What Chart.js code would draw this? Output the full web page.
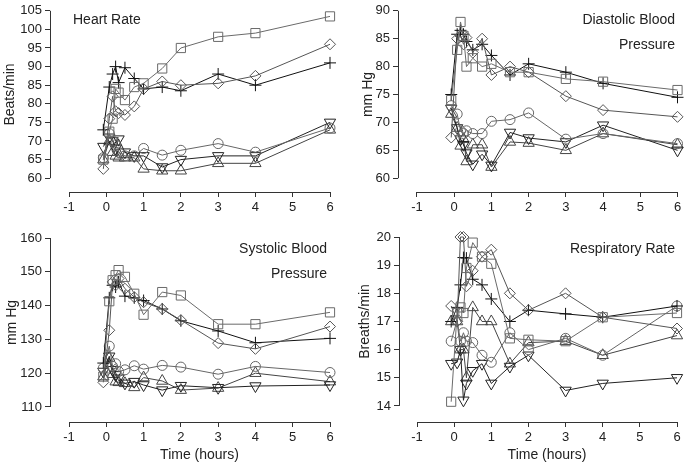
<!DOCTYPE html>
<html>
<head>
<meta charset="utf-8">
<script src="https://cdn.jsdelivr.net/npm/chart.js@4"></script>
<style>
  body{margin:0;background:#fff;width:685px;height:465px;position:relative;overflow:hidden}
  canvas{position:absolute}
</style>
</head>
<body>
<canvas id="hr" width="342" height="225" style="left:0;top:0"></canvas>
<canvas id="db" width="345" height="225" style="left:340px;top:0"></canvas>
<canvas id="sb" width="342" height="240" style="left:0;top:225px"></canvas>
<canvas id="rr" width="345" height="240" style="left:340px;top:225px"></canvas>
<script>
// sampling times (hours)
const times = [-0.08, 0.08, 0.17, 0.25, 0.33, 0.5, 0.75, 1, 1.5, 2, 3, 4, 6];
const xTicks = [-1, 0, 1, 2, 3, 4, 5, 6];

// heart rate
const hrTicks = [60, 65, 70, 75, 80, 85, 90, 95, 100, 105];
const hrSquare  = [65, 72.5, 76, 84, 83, 81, 84.5, 85.5, 89.5, 95, 98, 99, 103.5];
const hrDiamond = [62.5, 76, 82, 78, 77.5, 77, 79.3, 84, 86, 85, 85.5, 87.5, 96];
const hrPlus    = [73, 84.5, 88, 90, 85.7, 89.7, 86.8, 84, 84.5, 83.5, 88, 85, 91];
const hrCircle  = [65.5, 72, 70, 69, 67, 66, 66, 68, 66.2, 67.5, 69.3, 67, 73.5];
const hrDown    = [68.5, 71, 70, 68, 70.5, 67, 66, 66, 63, 65, 66, 66, 75];
const hrUp      = [65, 70, 67, 66, 65.5, 65.5, 65.5, 62.5, 62, 62, 64, 64, 73];

// diastolic blood pressure
const dbTicks = [60, 65, 70, 75, 80, 85, 90];
const dbSquare  = [74, 83, 88, 85.5, 80, 81.5, 80, 80.5, 79, 79, 77.8, 77.3, 75.8];
const dbDiamond = [67.3, 85, 85.5, 84, 85.2, 82.5, 85, 78.5, 80, 79, 74.7, 72.2, 71];
const dbPlus    = [75, 85.8, 86.5, 85.8, 84.5, 83, 84, 82, 78.5, 80.5, 79, 77, 74.5];
const dbCircle  = [73, 71.5, 68.5, 68, 68.5, 68, 68, 70.2, 70.5, 71.7, 67, 68, 66.2];
const dbDown    = [72.5, 69, 67, 66, 64.5, 62.5, 64.3, 62.3, 68.2, 67.2, 66.5, 69.5, 65];
const dbUp      = [71.5, 69, 65.8, 67, 63, 66, 66, 62, 66.5, 66.3, 65, 68, 66];

// systolic blood pressure
const sbTicks = [110, 120, 130, 140, 150, 160];
const sbSquare  = [119, 141.3, 147.5, 149, 150.5, 148.5, 143.5, 137.3, 144, 143, 134.5, 134.5, 138];
const sbDiamond = [117.3, 132.7, 147, 146, 148, 145, 142.5, 141, 139, 135.7, 128.9, 127.2, 133.8];
const sbPlus    = [123, 142.3, 146, 145.5, 147, 142.8, 142.3, 141.5, 139, 135.5, 132.5, 129, 130.3];
const sbCircle  = [121.5, 128, 122, 122.8, 120.5, 121, 122.2, 121.2, 122.3, 121.8, 119.7, 122, 120.2];
const sbDown    = [120.5, 125, 121, 119.5, 118.5, 117, 117.5, 116.5, 115, 116.3, 115.7, 116.2, 116.5];
const sbUp      = [119, 124.5, 119.7, 117.5, 117.3, 117, 115.8, 118.7, 117.7, 115, 115.6, 120, 117.5];

// respiratory rate
const rrTicks = [14, 15, 16, 17, 18, 19, 20];
const rrSquare  = [14.15, 17.3, 17.5, 17.3, 18.9, 19.8, 19.3, 19.05, 16.4, 16.35, 16.3, 17.15, 17.3];
const rrDiamond = [17.55, 17.0, 20.0, 20.0, 18.25, 18.8, 19.3, 19.55, 18.0, 17.4, 18.0, 17.15, 16.75];
const rrPlus    = [17.0, 17.5, 18.3, 19.27, 19.25, 18.5, 18.3, 17.8, 17.0, 17.4, 17.27, 17.15, 17.55];
const rrCircle  = [16.3, 17.05, 16.3, 16.6, 16.3, 16.25, 15.8, 15.55, 16.6, 16.0, 16.4, 15.8, 17.55];
const rrDown    = [15.5, 15.55, 16.0, 14.2, 14.8, 15.25, 15.5, 14.8, 15.4, 15.8, 14.55, 14.8, 15.0];
const rrUp      = [17.0, 17.0, 16.0, 16.0, 15.0, 17.5, 17.0, 17.0, 15.5, 16.25, 16.3, 15.8, 16.5];

// marker looks, same order in every panel
const markers = [
  { pointStyle: 'rect',     radius: 6.5, rotation: 0,   color: '#6a6a6a' },
  { pointStyle: 'rectRot',  radius: 5.5, rotation: 0,   color: '#555' },
  { pointStyle: 'cross',    radius: 6,   rotation: 0,   color: '#111' },
  { pointStyle: 'circle',   radius: 5,   rotation: 0,   color: '#666' },
  { pointStyle: 'triangle', radius: 6.5, rotation: 180, color: '#222' },
  { pointStyle: 'triangle', radius: 6.5, rotation: 0,   color: '#444' },
];

const FONT = "'Liberation Sans', Arial, sans-serif";
Chart.defaults.font.family = FONT;
Chart.defaults.font.size = 13;
Chart.defaults.color = '#222';

// axis lines that stop at the first/last tick, plus text
const axisPlugin = {
  id: 'axisPlugin',
  afterDraw(chart){
    const o = chart.options.plugins.axisPlugin;
    const ctx = chart.ctx;
    const x = chart.scales.x, y = chart.scales.y;
    const area = chart.chartArea;
    ctx.save();
    ctx.strokeStyle = '#333';
    ctx.lineWidth = 1;
    ctx.beginPath();
    const yl = Math.round(area.left) + 0.5;
    ctx.moveTo(yl, y.getPixelForValue(o.yTicks[0]));
    ctx.lineTo(yl, y.getPixelForValue(o.yTicks[o.yTicks.length-1]));
    const xb = Math.round(area.bottom) + 0.5;
    ctx.moveTo(x.getPixelForValue(xTicks[0]), xb);
    ctx.lineTo(x.getPixelForValue(xTicks[xTicks.length-1]), xb);
    ctx.stroke();

    ctx.fillStyle = '#222';
    ctx.font = '14px ' + FONT;
    ctx.textBaseline = 'middle';
    // y title centred on the axis line
    const yMid = (y.getPixelForValue(o.yTicks[0]) + y.getPixelForValue(o.yTicks[o.yTicks.length-1])) / 2;
    ctx.save();
    ctx.translate(o.yTitleX, yMid);
    ctx.rotate(-Math.PI/2);
    ctx.textAlign = 'center';
    ctx.fillText(o.yTitle, 0, 0);
    ctx.restore();
    if(o.xTitle){
      ctx.textAlign = 'center';
      const xMid = (x.getPixelForValue(xTicks[0]) + x.getPixelForValue(xTicks[xTicks.length-1])) / 2;
      ctx.fillText(o.xTitle, xMid, o.xTitleY);
    }
    o.labels.forEach(l=>{
      ctx.textAlign = l.align;
      ctx.fillText(l.text, l.x, l.y);
    });
    ctx.restore();
  }
};

function makeDatasets(list){
  return list.map((vals, i)=>{
    const m = markers[i];
    return {
      data: vals.map((v, j)=>({ x: times[j], y: v })),
      borderColor: m.color,
      borderWidth: 1,
      pointStyle: m.pointStyle,
      pointRadius: m.radius,
      pointRotation: m.rotation,
      pointBorderColor: m.color,
      pointBorderWidth: 1,
      pointBackgroundColor: 'rgba(0,0,0,0)',
      tension: 0,
      clip: false,
    };
  });
}

function makeChart(id, cfg){
  return new Chart(document.getElementById(id), {
    type: 'line',
    data: { datasets: makeDatasets(cfg.series) },
    options: {
      responsive: false,
      animation: false,
      layout: { padding: { top: cfg.top, right: cfg.right, left: 0, bottom: 0 } },
      plugins: {
        legend: { display: false },
        tooltip: { enabled: false },
        axisPlugin: cfg,
      },
      scales: {
        x: {
          type: 'linear', min: cfg.xMin, max: 6,
          afterBuildTicks: s => { s.ticks = xTicks.map(v=>({ value: v })); },
          afterFit: s => { s.height = cfg.xH; },
          grid: { drawOnChartArea: false, drawTicks: true, tickLength: 5, color: '#333' },
          border: { display: false },
          ticks: { padding: 3, maxRotation: 0 },
        },
        y: {
          type: 'linear', min: cfg.yMin, max: cfg.yTicks[cfg.yTicks.length-1],
          afterBuildTicks: s => { s.ticks = cfg.yTicks.map(v=>({ value: v })); },
          afterFit: s => { s.width = cfg.yW; },
          grid: { drawOnChartArea: false, drawTicks: true, tickLength: 5, color: '#333' },
          border: { display: false },
          ticks: { padding: 3 },
        }
      }
    },
    plugins: [axisPlugin]
  });
}

makeChart('hr', {
  series: [hrSquare, hrDiamond, hrPlus, hrCircle, hrDown, hrUp],
  yTicks: hrTicks, yMin: 56.29, xMin: -1.51,
  top: 8, right: 12, yW: 50, xH: 33,
  yTitle: 'Beats/min', yTitleX: 10,
  labels: [{ text: 'Heart Rate', x: 73, y: 20, align: 'left' }],
});
makeChart('db', {
  series: [dbSquare, dbDiamond, dbPlus, dbCircle, dbDown, dbUp],
  yTicks: dbTicks, yMin: 57.53, xMin: -1.51,
  top: 8, right: 7, yW: 58, xH: 33,
  yTitle: 'mm Hg', yTitleX: 28,
  labels: [{ text: 'Diastolic Blood', x: 335, y: 20, align: 'right' },
           { text: 'Pressure', x: 335, y: 45, align: 'right' }],
});
makeChart('sb', {
  series: [sbSquare, sbDiamond, sbPlus, sbCircle, sbDown, sbUp],
  yTicks: sbTicks, yMin: 105.56, xMin: -1.51,
  top: 13, right: 12, yW: 50, xH: 43,
  yTitle: 'mm Hg', yTitleX: 12,
  xTitle: 'Time (hours)', xTitleY: 230,
  labels: [{ text: 'Systolic Blood', x: 327, y: 24, align: 'right' },
           { text: 'Pressure', x: 327, y: 49, align: 'right' }],
});
makeChart('rr', {
  series: [rrSquare, rrDiamond, rrPlus, rrCircle, rrDown, rrUp],
  yTicks: rrTicks, yMin: 13.43, xMin: -1.485,
  top: 12, right: 8, yW: 59, xH: 43,
  yTitle: 'Breaths/min', yTitleX: 25,
  xTitle: 'Time (hours)', xTitleY: 230,
  labels: [{ text: 'Respiratory Rate', x: 335, y: 24, align: 'right' }],
});
</script>
</body>
</html>
